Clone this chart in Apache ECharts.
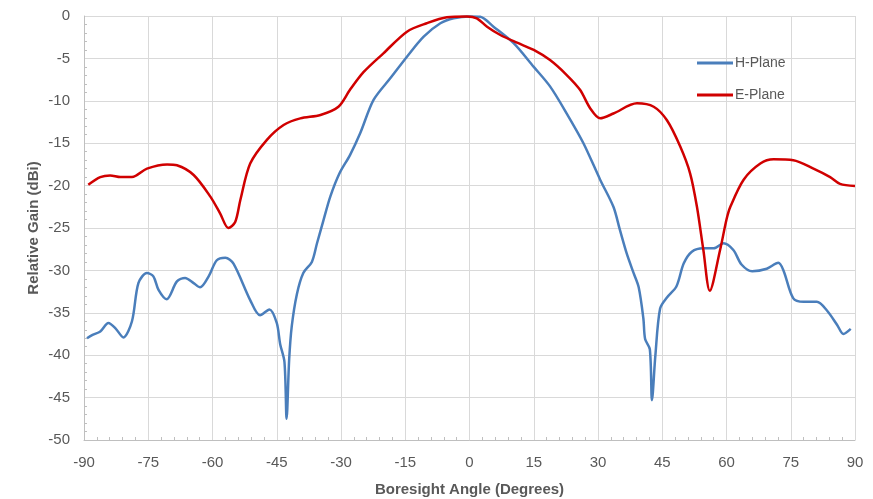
<!DOCTYPE html>
<html>
<head>
<meta charset="utf-8">
<script src="https://cdn.jsdelivr.net/npm/echarts@6/dist/echarts.min.js"></script>
<style>html,body{margin:0;padding:0;background:#fff;}#c{width:873px;height:499px;}</style>
</head>
<body>
<div id="c"></div>
<script>
const hAngle = [-89.3,-88,-86.2,-84.3,-82.7,-80.8,-78.8,-77.3,-75.3,-73.8,-72.6,-70.7,-68.3,-66.4,-64.4,-62.9,-60.9,-59,-57,-55.1,-51.2,-48.9,-46.7,-45,-44.2,-43.2,-42.7,-42.1,-41.5,-40.3,-38.8,-36.8,-35.6,-34.1,-32.5,-30.4,-27.9,-25.5,-22.4,-18.5,-14.6,-10.7,-6.8,-3.7,0,2.5,5.6,10.3,15,18.8,22.7,26.6,30.5,33.6,35.1,36.7,38.3,39.5,40.6,41,42.1,42.6,43.4,44.5,46.1,48.3,50,51.9,54.6,57,59.3,61.6,63.5,66,69.4,72.1,73.3,75.6,78,81.1,83.4,85.8,87.3,89];
const hGain  = [-38,-37.6,-37.2,-36.2,-36.8,-37.9,-36,-31.5,-30.3,-30.7,-32.3,-33.4,-31.3,-30.9,-31.5,-32,-30.7,-28.8,-28.5,-29.2,-33.5,-35.3,-34.6,-36.2,-38.7,-40.8,-47.5,-40.5,-36.6,-32.8,-30.3,-29,-26.8,-24.1,-21.3,-18.6,-16.4,-13.8,-9.9,-7.35,-4.8,-2.44,-0.86,-0.27,-0.05,-0.1,-1.26,-3.2,-6,-8.3,-11.5,-15,-19.3,-22.5,-25.2,-28,-30.3,-32,-35.7,-38.1,-39.3,-45.3,-40,-34.5,-33.2,-31.9,-29.2,-27.8,-27.4,-27.4,-26.8,-27.6,-29.3,-30.1,-29.8,-29.1,-30,-33.3,-33.7,-33.7,-34.7,-36.4,-37.5,-36.9];
const eAngle = [-89,-86.2,-83.9,-81.5,-78.8,-75.3,-70.6,-68.3,-64.4,-60.5,-58.2,-56.3,-54.7,-53.5,-51.2,-47.3,-43.4,-39.5,-34.8,-30.6,-27.9,-24.7,-20.1,-14.6,-10,-5.3,-0.6,1.7,4.1,7.2,11.1,15,18.8,22.7,25.8,28.2,30.5,33.6,39.1,43,46.1,49.2,51.5,53.1,54.6,56.1,58.5,60,60.9,64,67.9,71,75.6,80.3,84.2,86.5,90];
const eGain  = [-19.9,-19,-18.8,-19,-19,-18,-17.5,-17.6,-18.75,-21.3,-23.3,-25,-24.3,-21.7,-17.4,-14.6,-12.85,-12.07,-11.67,-10.7,-8.7,-6.6,-4.4,-1.85,-0.86,-0.15,-0.05,-0.27,-1.26,-2.24,-3.15,-4,-5.2,-6.96,-8.7,-10.9,-12.07,-11.5,-10.3,-10.7,-12.3,-15.4,-18.55,-22.5,-27.6,-32.4,-27.6,-24,-22.5,-19.3,-17.4,-16.9,-17,-18,-19,-19.8,-20.05];
const seriesNames = ['H-Plane','E-Plane'];
const xTitle = 'Boresight Angle (Degrees)';
const yTitle = 'Relative Gain (dBi)';

const zip = (a,b) => a.map((v,i)=>[v,b[i]]);
const chart = echarts.init(document.getElementById('c'));
const font = 'Liberation Sans, Arial, sans-serif';
chart.setOption({
  animation:false,
  backgroundColor:'#fff',
  grid:{left:84,right:18,top:16,bottom:59,containLabel:false,outerBoundsMode:'none'},
  legend:{
    orient:'vertical', left:692, top:51, itemGap:18, itemWidth:36, itemHeight:3,
    icon:'rect',
    textStyle:{color:'#595959',fontSize:14,fontFamily:font,padding:[0,0,0,-3]},
    data:seriesNames
  },
  xAxis:{
    type:'value', min:-90, max:90, interval:15,
    name:xTitle, nameLocation:'middle', nameGap:42, nameMoveOverlap:false,
    nameTextStyle:{color:'#595959',fontSize:15,fontWeight:'bold',fontFamily:font},
    axisLine:{show:true,onZero:false,lineStyle:{color:'#bfbfbf',width:1}},
    axisTick:{show:false,inside:true},
    minorTick:{show:true,splitNumber:5,length:3,lineStyle:{color:'#bfbfbf'}},
    axisLabel:{color:'#595959',fontSize:15,fontFamily:font,margin:15},
    splitLine:{show:true,lineStyle:{color:'#d9d9d9',width:1}}
  },
  yAxis:{
    type:'value', min:-50, max:0, interval:5,
    name:yTitle, nameLocation:'middle', nameGap:43, nameRotate:90, nameMoveOverlap:false,
    nameTextStyle:{color:'#595959',fontSize:15,fontWeight:'bold',fontFamily:font},
    axisLine:{show:true,onZero:false,lineStyle:{color:'#bfbfbf',width:1}},
    axisTick:{show:false,inside:true},
    minorTick:{show:true,splitNumber:5,length:3,lineStyle:{color:'#bfbfbf'}},
    axisLabel:{color:'#595959',fontSize:15,fontFamily:font,margin:14},
    splitLine:{show:true,lineStyle:{color:'#d9d9d9',width:1}}
  },
  series:[
    {name:seriesNames[0],type:'line',data:zip(hAngle,hGain),smooth:0.3,showSymbol:false,
     lineStyle:{color:'#4a7ebb',width:2.5},itemStyle:{color:'#4a7ebb'}},
    {name:seriesNames[1],type:'line',data:zip(eAngle,eGain),smooth:0.3,showSymbol:false,
     lineStyle:{color:'#d00000',width:2.5},itemStyle:{color:'#d00000'}}
  ]
});
</script>
</body>
</html>
